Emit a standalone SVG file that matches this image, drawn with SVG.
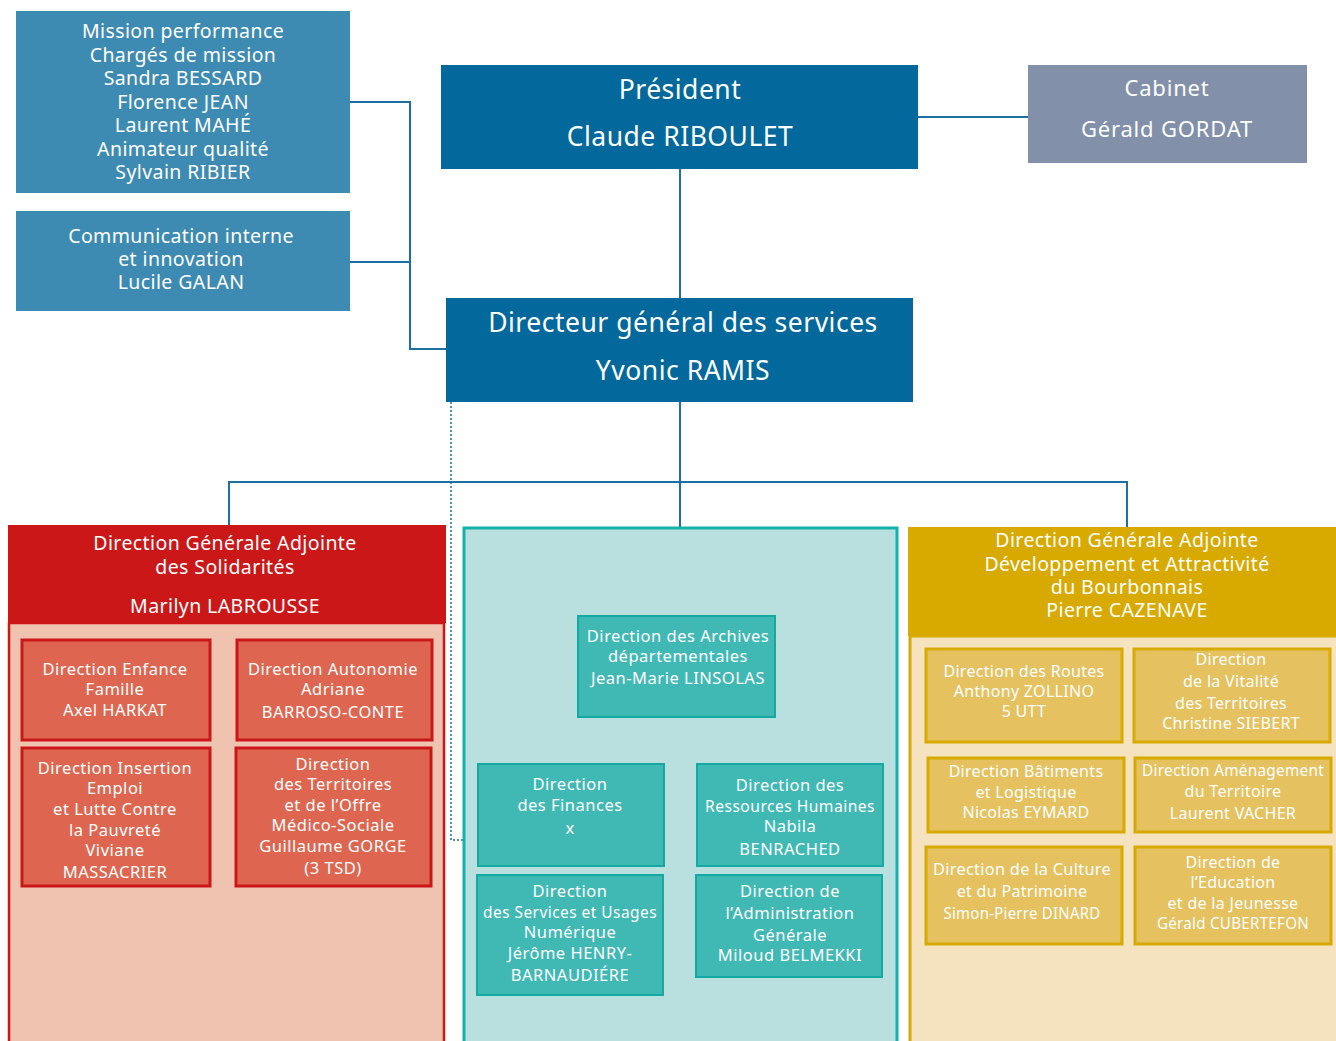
<svg xmlns="http://www.w3.org/2000/svg" width="1336" height="1041" viewBox="0 0 1336 1041">
<style>
text{font-family:"Noto Sans","Open Sans","DejaVu Sans",sans-serif;fill:#fff;text-anchor:middle;dominant-baseline:central}
.t19{font-size:19.5px;letter-spacing:0.4px}
.t16{font-size:16.5px;letter-spacing:0.5px}
.ty{font-size:16px;letter-spacing:0.3px}
.t26{font-size:26.5px;letter-spacing:0.5px}
.t22{font-size:22px;letter-spacing:0.8px}
.blue{fill:#3d8bb3}
.dark{fill:#03689c}
.red{fill:#de6650;stroke:#cc1719;stroke-width:3}
.teal{fill:#40b9b5;stroke:#13aaa3;stroke-width:2}
.yel{fill:#e5c25f;stroke:#d8aa00;stroke-width:3}
.ln{stroke:#1a6fa3;stroke-width:2;fill:none}
</style>
<rect width="1336" height="1041" fill="#fff"/>
<g id="connectors">
<polyline class="ln" points="350,102 410,102 410,349 446,349"/>
<line class="ln" x1="350" y1="262" x2="410" y2="262"/>
<line class="ln" x1="918" y1="117" x2="1028" y2="117" stroke="#2a82ad"/>
<line class="ln" x1="680" y1="169" x2="680" y2="298"/>
<line class="ln" x1="680" y1="402" x2="680" y2="527"/>
<polyline class="ln" points="229,525 229,482 1127,482 1127,527"/>
<polyline points="451,402 451,840 478,840" fill="none" stroke="#1a6fa3" stroke-width="1.5" stroke-dasharray="2,2"/>
</g>
<g id="mission">
<rect class="blue" x="16" y="11" width="334" height="182"/>
<text class="t19"><tspan x="183" y="30">Mission performance</tspan><tspan x="183" y="54">Chargés de mission</tspan><tspan x="183" y="77">Sandra BESSARD</tspan><tspan x="183" y="101">Florence JEAN</tspan><tspan x="183" y="124">Laurent MAHÉ</tspan><tspan x="183" y="148">Animateur qualité</tspan><tspan x="183" y="171">Sylvain RIBIER</tspan></text>
</g>
<g id="communication">
<rect class="blue" x="16" y="211" width="334" height="100"/>
<text class="t19"><tspan x="181" y="235">Communication interne</tspan><tspan x="181" y="258">et innovation</tspan><tspan x="181" y="281">Lucile GALAN</tspan></text>
</g>
<g id="president">
<rect class="dark" x="441" y="65" width="477" height="104"/>
<text class="t26"><tspan x="680" y="89">Président</tspan><tspan x="680" y="136">Claude RIBOULET</tspan></text>
</g>
<g id="cabinet">
<rect fill="#8290aa" x="1028" y="65" width="279" height="98"/>
<text class="t22"><tspan x="1167" y="87">Cabinet</tspan><tspan x="1167" y="128">Gérald GORDAT</tspan></text>
</g>
<g id="dgs">
<rect class="dark" x="446" y="298" width="467" height="104"/>
<text class="t26"><tspan x="683" y="322">Directeur général des services</tspan><tspan x="683" y="370">Yvonic RAMIS</tspan></text>
</g>
<g id="dga-solidarites">
<rect x="9" y="623" width="435" height="420" fill="#f0c2b0" stroke="#cc1719" stroke-width="2.5"/>
<rect x="8" y="525" width="438" height="98" fill="#cc1719"/>
<text class="t19"><tspan x="225" y="542">Direction Générale Adjointe</tspan><tspan x="225" y="566">des Solidarités</tspan><tspan x="225" y="605">Marilyn LABROUSSE</tspan></text>
</g>
<g id="enfance">
<rect class="red" x="22" y="640" width="188" height="100"/>
<text class="t16"><tspan x="115" y="668">Direction Enfance</tspan><tspan x="115" y="688">Famille</tspan><tspan x="115" y="709">Axel HARKAT</tspan></text>
</g>
<g id="autonomie">
<rect class="red" x="237" y="640" width="195" height="100"/>
<text class="t16"><tspan x="333" y="668">Direction Autonomie</tspan><tspan x="333" y="688">Adriane</tspan><tspan x="333" y="711">BARROSO-CONTE</tspan></text>
</g>
<g id="insertion">
<rect class="red" x="22" y="748" width="188" height="138"/>
<text class="t16"><tspan x="115" y="767">Direction Insertion</tspan><tspan x="115" y="787">Emploi</tspan><tspan x="115" y="808">et Lutte Contre</tspan><tspan x="115" y="829">la Pauvreté</tspan><tspan x="115" y="849">Viviane</tspan><tspan x="115" y="871">MASSACRIER</tspan></text>
</g>
<g id="territoires-medico">
<rect class="red" x="236" y="748" width="195" height="138"/>
<text class="t16"><tspan x="333" y="763">Direction</tspan><tspan x="333" y="783">des Territoires</tspan><tspan x="333" y="804">et de l’Offre</tspan><tspan x="333" y="824">Médico-Sociale</tspan><tspan x="333" y="845">Guillaume GORGE</tspan><tspan x="333" y="867">(3 TSD)</tspan></text>
</g>
<g id="pole-central">
<rect x="464" y="528" width="433" height="515" fill="#b9dfdf" stroke="#13b3aa" stroke-width="3"/>
</g>
<g id="archives">
<rect class="teal" x="578" y="616" width="197" height="101"/>
<text class="t16"><tspan x="678" y="635">Direction des Archives</tspan><tspan x="678" y="655">départementales</tspan><tspan x="678" y="677">Jean-Marie LINSOLAS</tspan></text>
</g>
<g id="finances">
<rect class="teal" x="478" y="764" width="186" height="102"/>
<text class="t16"><tspan x="570" y="783">Direction</tspan><tspan x="570" y="804">des Finances</tspan><tspan x="570" y="827">x</tspan></text>
</g>
<g id="rh">
<rect class="teal" x="697" y="764" width="186" height="102"/>
<text class="t16"><tspan x="790" y="784">Direction des</tspan><tspan x="790" y="805" textLength="170" lengthAdjust="spacingAndGlyphs">Ressources Humaines</tspan><tspan x="790" y="825">Nabila</tspan><tspan x="790" y="848">BENRACHED</tspan></text>
</g>
<g id="numerique">
<rect class="teal" x="477" y="875" width="186" height="120"/>
<text class="t16"><tspan x="570" y="890">Direction</tspan><tspan x="570" y="911" textLength="174" lengthAdjust="spacingAndGlyphs">des Services et Usages</tspan><tspan x="570" y="931">Numérique</tspan><tspan x="570" y="952">Jérôme HENRY-</tspan><tspan x="570" y="974">BARNAUDIÉRE</tspan></text>
</g>
<g id="administration">
<rect class="teal" x="696" y="875" width="186" height="102"/>
<text class="t16"><tspan x="790" y="890">Direction de</tspan><tspan x="790" y="912">l’Administration</tspan><tspan x="790" y="934">Générale</tspan><tspan x="790" y="954">Miloud BELMEKKI</tspan></text>
</g>
<g id="dga-developpement">
<rect x="910" y="636" width="430" height="410" fill="#f5e3c0" stroke="#d8aa00" stroke-width="3"/>
<rect x="908" y="527" width="428" height="109" fill="#d8aa00"/>
<text class="t19"><tspan x="1127" y="539">Direction Générale Adjointe</tspan><tspan x="1127" y="563">Développement et Attractivité</tspan><tspan x="1127" y="586">du Bourbonnais</tspan><tspan x="1127" y="609">Pierre CAZENAVE</tspan></text>
</g>
<g id="routes">
<rect class="yel" x="926" y="649" width="196" height="93"/>
<text class="ty"><tspan x="1024" y="671">Direction des Routes</tspan><tspan x="1024" y="691">Anthony ZOLLINO</tspan><tspan x="1024" y="711">5 UTT</tspan></text>
</g>
<g id="vitalite">
<rect class="yel" x="1134" y="649" width="196" height="93"/>
<text class="ty"><tspan x="1231" y="659">Direction</tspan><tspan x="1231" y="681">de la Vitalité</tspan><tspan x="1231" y="703">des Territoires</tspan><tspan x="1231" y="723">Christine SIEBERT</tspan></text>
</g>
<g id="batiments">
<rect class="yel" x="928" y="758" width="196" height="74"/>
<text class="ty"><tspan x="1026" y="771">Direction Bâtiments</tspan><tspan x="1026" y="792">et Logistique</tspan><tspan x="1026" y="812">Nicolas EYMARD</tspan></text>
</g>
<g id="amenagement">
<rect class="yel" x="1135" y="758" width="196" height="74"/>
<text class="ty"><tspan x="1233" y="770" textLength="182" lengthAdjust="spacingAndGlyphs">Direction Aménagement</tspan><tspan x="1233" y="791">du Territoire</tspan><tspan x="1233" y="813">Laurent VACHER</tspan></text>
</g>
<g id="culture">
<rect class="yel" x="926" y="847" width="196" height="97"/>
<text class="ty"><tspan x="1022" y="869" textLength="178" lengthAdjust="spacingAndGlyphs">Direction de la Culture</tspan><tspan x="1022" y="891">et du Patrimoine</tspan><tspan x="1022" y="913" textLength="157" lengthAdjust="spacingAndGlyphs">Simon-Pierre DINARD</tspan></text>
</g>
<g id="education">
<rect class="yel" x="1135" y="847" width="196" height="97"/>
<text class="ty"><tspan x="1233" y="862">Direction de</tspan><tspan x="1233" y="882">l’Education</tspan><tspan x="1233" y="903">et de la Jeunesse</tspan><tspan x="1233" y="923" textLength="152" lengthAdjust="spacingAndGlyphs">Gérald CUBERTEFON</tspan></text>
</g>
</svg>
